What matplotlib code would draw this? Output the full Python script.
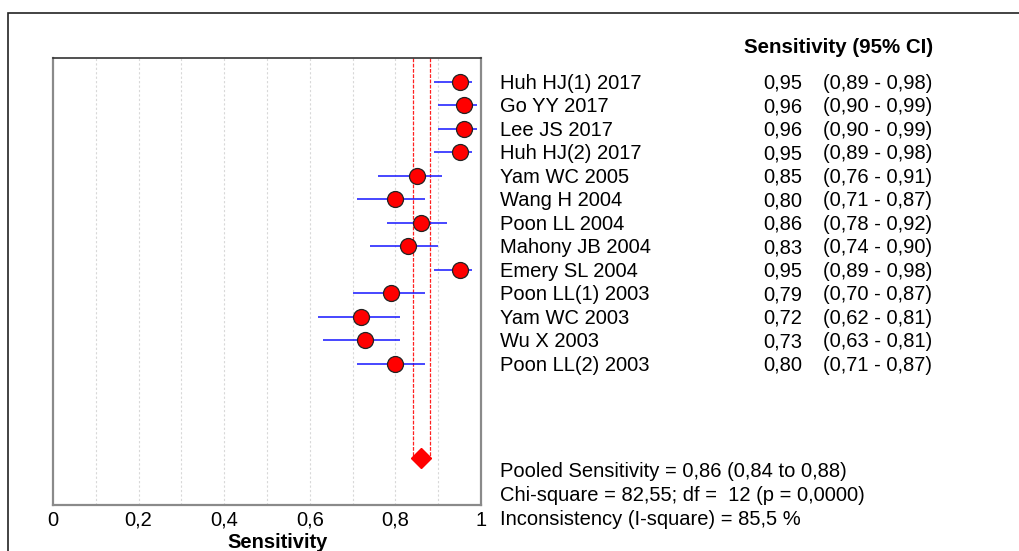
import numpy as np
import matplotlib
matplotlib.use("Agg")
from matplotlib import pyplot as plt
from matplotlib.patches import Rectangle
from matplotlib.transforms import blended_transform_factory

plt.rcParams['font.family'] = ['Liberation Sans', 'DejaVu Sans']

# study data
studies = ["Huh HJ(1) 2017", "Go YY 2017", "Lee JS 2017", "Huh HJ(2) 2017",
           "Yam WC 2005", "Wang H 2004", "Poon LL 2004", "Mahony JB 2004",
           "Emery SL 2004", "Poon LL(1) 2003", "Yam WC 2003", "Wu X 2003",
           "Poon LL(2) 2003"]
sens = [0.95, 0.96, 0.96, 0.95, 0.85, 0.80, 0.86, 0.83, 0.95, 0.79, 0.72, 0.73, 0.80]
ci_low = [0.89, 0.90, 0.90, 0.89, 0.76, 0.71, 0.78, 0.74, 0.89, 0.70, 0.62, 0.63, 0.71]
ci_high = [0.98, 0.99, 0.99, 0.98, 0.91, 0.87, 0.92, 0.90, 0.98, 0.87, 0.81, 0.81, 0.87]

pooled = 0.86
pooled_low = 0.84
pooled_high = 0.88
chi_square = "82,55"
df = 12
p_value = "0,0000"
i_square = "85,5"

tick_vals = [0, 0.2, 0.4, 0.6, 0.8, 1.0]
tick_labels = ["0", "0,2", "0,4", "0,6", "0,8", "1"]


def fmt(v):
    return f"{v:.2f}".replace(".", ",")


fig = plt.figure(figsize=(10.19, 5.51), dpi=100)
ax = fig.add_axes([53 / 1019, 46 / 551, 428 / 1019, 447 / 551])

rows = np.arange(len(studies))
pooled_row = 16

# grid every 0.1
for gx in np.arange(0.1, 1.0, 0.1):
    ax.axvline(gx, color="#d8d8d8", lw=0.8, ls=(0, (2, 2)), zorder=0)

# pooled CI lines
ax.vlines([pooled_low, pooled_high], -1, pooled_row, colors="#ff2020", lw=0.9,
          linestyles=(0, (3, 1.2)), zorder=1)

ax.hlines(rows, ci_low, ci_high, colors="#1515ff", lw=1.1, zorder=2)
ax.plot(sens, rows, "o", ms=11.5, mfc="red", mec="#222222", mew=0.9, zorder=3)
ax.plot([pooled], [pooled_row], "D", ms=10.5, mfc="red", mec="red", zorder=3)

ax.set_xlim(0, 1)
ax.set_ylim(18, -1)
ax.set_yticks([])
ax.set_xticks(tick_vals)
ax.set_xticklabels(tick_labels, fontsize=14.5)
ax.tick_params(axis="x", length=0, pad=4)

for side in ["left", "bottom", "right"]:
    ax.spines[side].set_color("#8a8a8a")
    ax.spines[side].set_linewidth(1.6)
ax.spines["top"].set_color("#333333")
ax.spines["top"].set_linewidth(1.2)

fig.text(278 / 1019, 1 - 542 / 551, "Sensitivity", ha="center", va="center",
         fontsize=14.5, fontweight="bold")

tr = blended_transform_factory(ax.transAxes, ax.transData)
fs = 14.5
base = 0.3  # baseline offset below row centre
ax.text(2.056, -1.5 + base, "Sensitivity (95% CI)", transform=tr, ha="right",
        va="baseline", fontsize=14.8, fontweight="bold")
for i, name in enumerate(studies):
    y = i + base
    ax.text(1.044, y, name, transform=tr, ha="left", va="baseline", fontsize=fs)
    ax.text(1.75, y, fmt(sens[i]), transform=tr, ha="right", va="baseline", fontsize=fs)
    ax.text(1.799, y, f"({fmt(ci_low[i])} - {fmt(ci_high[i])})", transform=tr,
            ha="left", va="baseline", fontsize=fs)

summary = [
    f"Pooled Sensitivity = {fmt(pooled)} ({fmt(pooled_low)} to {fmt(pooled_high)})",
    f"Chi-square = {chi_square}; df =  {df} (p = {p_value})",
    f"Inconsistency (I-square) = {i_square} %",
]
for k, line in enumerate(summary):
    ax.text(1.044, 16.5 + k * 1.02 + base, line, transform=tr, ha="left",
            va="baseline", fontsize=fs)

# outer frame
fig.patches.append(Rectangle((8 / 1019, -0.1), 1.2, 1.1 - 13 / 551,
                             transform=fig.transFigure, fill=False,
                             edgecolor="#222222", lw=1.2))

fig.savefig("out.png", dpi=100)
